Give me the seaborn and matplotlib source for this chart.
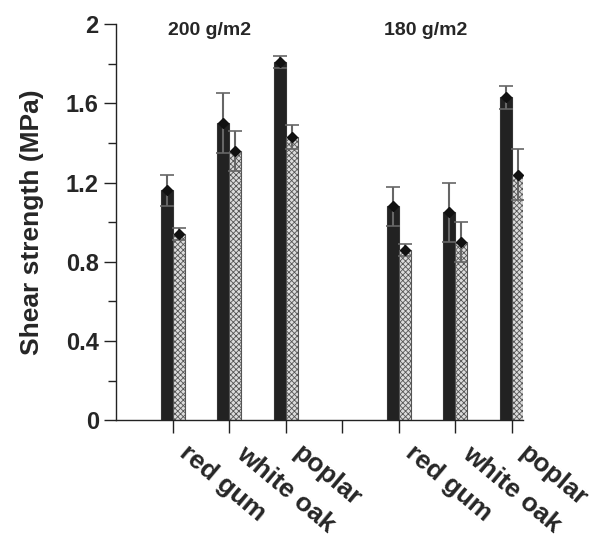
import numpy as np
import pandas as pd
import matplotlib
matplotlib.use('Agg')
import matplotlib.pyplot as plt
from matplotlib.ticker import MultipleLocator
import seaborn as sns

# 데이터
woods = ['red gum', 'white oak', 'poplar']
groups = ['200 g/m2', '180 g/m2']
slots = ['200 red gum', '200 white oak', '200 poplar', 'gap',
         '180 red gum', '180 white oak', '180 poplar']
data_slots = ['200 red gum', '200 white oak', '200 poplar',
              '180 red gum', '180 white oak', '180 poplar']
solid_mean = [1.16, 1.50, 1.81, 1.08, 1.05, 1.63]
solid_err = [0.08, 0.15, 0.03, 0.10, 0.15, 0.06]
check_mean = [0.94, 1.36, 1.43, 0.86, 0.90, 1.24]
check_err = [0.03, 0.10, 0.06, 0.03, 0.10, 0.13]

df = pd.DataFrame({
    'slot': data_slots * 2,
    'series': ['solid'] * 6 + ['check'] * 6,
    'mean': solid_mean + check_mean,
    'err': solid_err + check_err,
})

sns.set_style('ticks')
plt.rcParams['font.family'] = ['Liberation Sans', 'DejaVu Sans']
plt.rcParams['font.weight'] = 'bold'
plt.rcParams['hatch.linewidth'] = 0.6

fig = plt.figure(figsize=(5.99, 5.36), dpi=100)
ax = fig.add_axes([0.194, 0.216, 0.679, 0.739])

sns.barplot(data=df, x='slot', y='mean', hue='series', order=slots,
            hue_order=['solid', 'check'],
            palette={'solid': '#222222', 'check': '#dcdcdc'},
            width=0.42, errorbar=None, legend=False, ax=ax,
            linewidth=0.8, edgecolor='#333333')

# 체크 무늬 + 오차막대
for cont, name in zip(ax.containers, ['solid', 'check']):
    sub = df[df['series'] == name].set_index('slot')
    for bar in cont:
        if np.isnan(bar.get_height()):
            continue
        xc = bar.get_x() + bar.get_width() / 2
        slot = slots[int(round(xc))]
        if name == 'check':
            bar.set_hatch('xxxxxx')
            bar.set_edgecolor('#555555')
        ax.errorbar(xc, sub.loc[slot, 'mean'], yerr=sub.loc[slot, 'err'],
                    fmt='D', color='#111111', ms=5, ecolor='#666666',
                    elinewidth=1.5, capsize=5, capthick=1.2, zorder=5)

ax.set_xlim(-1, 6.2)
ax.set_ylim(0, 2)
ax.set_yticks([0, 0.4, 0.8, 1.2, 1.6, 2])
ax.set_yticklabels(['0', '0.4', '0.8', '1.2', '1.6', '2'], fontsize=17, fontweight='bold')
ax.yaxis.set_minor_locator(MultipleLocator(0.2))
ax.set_xticks(range(7))
ax.set_xticklabels([''] * 7)

# x축 라벨 (사선)
xlabels = woods + [''] + woods
for i, lab in enumerate(xlabels):
    ax.annotate(lab, xy=(i, 0), xycoords=('data', 'axes fraction'),
                xytext=(13, -15), textcoords='offset points',
                rotation=-40, rotation_mode='anchor', ha='left', va='top',
                fontsize=19, fontweight='bold', annotation_clip=False)

ax.tick_params(axis='both', which='major', length=9, width=1, color='#222222', direction='out')
ax.tick_params(axis='y', which='minor', length=6, width=1, color='#222222', direction='out')
for s in ['left', 'bottom']:
    ax.spines[s].set_color('#222222')
    ax.spines[s].set_linewidth(1)
sns.despine(ax=ax)

ax.set_xlabel('')
ax.set_ylabel('Shear strength (MPa)', fontsize=19, fontweight='bold', labelpad=16)

ax.text(0.66, 1.97, groups[0], fontsize=14, fontweight='bold', va='center', ha='center')
ax.text(4.47, 1.97, groups[1], fontsize=14, fontweight='bold', va='center', ha='center')

fig.savefig('out.png', dpi=100)
